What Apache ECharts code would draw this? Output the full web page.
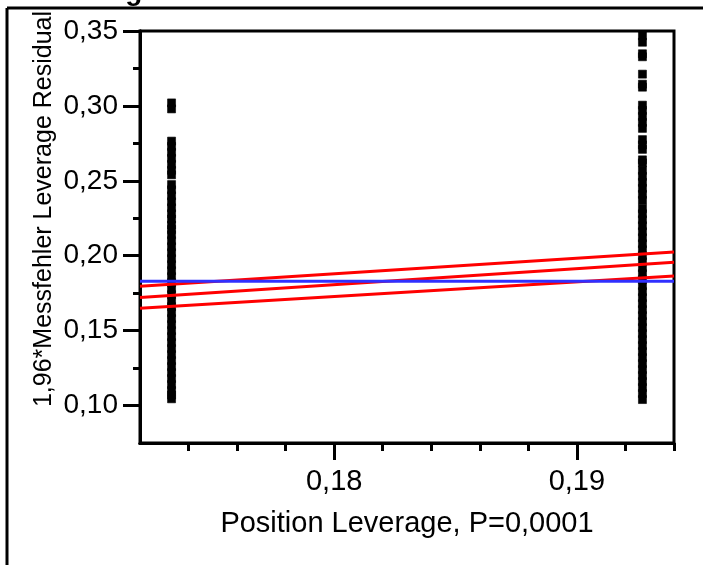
<!DOCTYPE html>
<html>
<head>
<meta charset="utf-8">
<script src="https://cdn.jsdelivr.net/npm/echarts@6/dist/echarts.min.js"></script>
<style>html,body{margin:0;padding:0;background:#fff}#c{width:703px;height:565px}</style>
</head>
<body>
<div id="c"></div>
<script>
// ---- data ----
var chartTitle = 'Leverage Plot';
var xTitle = 'Position Leverage, P=0,0001';
var yTitle = '1,96*Messfehler Leverage Residual';
var xTickValues = [0.18, 0.19];
var xMinorTickValues = [0.174, 0.176, 0.178, 0.182, 0.184, 0.186, 0.188, 0.192, 0.194];
var yTickValues = [0.10, 0.15, 0.20, 0.25, 0.30, 0.35];
var yMinorTickValues = [0.125, 0.175, 0.225, 0.275, 0.325];
var leftLeverage = 0.1733;
var rightLeverage = 0.1927;
var leftResiduals = [0.302, 0.298,
  0.2765, 0.273, 0.269, 0.265, 0.261, 0.257, 0.254,
  0.2475, 0.244, 0.240, 0.236, 0.232, 0.228, 0.2245, 0.2205,
  0.2175, 0.214, 0.210, 0.206, 0.202, 0.198, 0.194, 0.190, 0.186, 0.182, 0.178, 0.174,
  0.170, 0.166, 0.162, 0.158, 0.154, 0.150, 0.146, 0.142, 0.138, 0.134, 0.130, 0.126,
  0.122, 0.118, 0.114, 0.110, 0.107, 0.1045];
var rightResiduals = [0.3468, 0.3425, 0.3348, 0.3328, 0.3212, 0.3145, 0.3125,
  0.3005, 0.297, 0.293, 0.289, 0.285,
  0.2775, 0.274, 0.271,
  0.264, 0.262,
  0.257, 0.253, 0.249, 0.245, 0.241, 0.237,
  0.2315, 0.228, 0.224, 0.220, 0.216, 0.212, 0.208, 0.204, 0.200, 0.196, 0.192, 0.188,
  0.184, 0.180, 0.176, 0.172, 0.168, 0.164, 0.160, 0.156, 0.152, 0.148, 0.144, 0.140,
  0.136, 0.132, 0.128, 0.124, 0.120, 0.116, 0.112, 0.108, 0.104];
var lineX = [0.172, 0.194];
var fitY = [0.1721, 0.1957];
var upperY = [0.1797, 0.2025];
var lowerY = [0.1650, 0.1865];
var meanY = [0.1829, 0.1829];

// ---- build ----
var FONT = '"Liberation Sans", Arial, sans-serif';
function pairs(xs, ys) { return xs.map(function (x, i) { return [x, ys[i]]; }); }
var pts = leftResiduals.map(function (v) { return [leftLeverage, v]; })
  .concat(rightResiduals.map(function (v) { return [rightLeverage, v]; }));
function fmt(v) { return (+v).toFixed(2).replace('.', ','); }

var chart = echarts.init(document.getElementById('c'), null, {renderer: 'canvas'});
var axisLine = {show: true, lineStyle: {color: '#000', width: 3}};
var opt = {
  animation: false,
  backgroundColor: '#fff',
  grid: {left: 140, right: 29, top: 31, bottom: 122, show: true, borderColor: '#000', borderWidth: 3, backgroundColor: 'transparent'},
  xAxis: [
    {type: 'value', min: 0.172, max: 0.194, position: 'bottom',
     axisLine: axisLine, splitLine: {show: false},
     axisTick: {show: true, inside: false, length: 8, customValues: xMinorTickValues, lineStyle: {color: '#000', width: 3}},
     axisLabel: {show: false}},
    {type: 'value', min: 0.172, max: 0.194, position: 'bottom',
     axisLine: axisLine, splitLine: {show: false},
     axisTick: {show: true, length: 17, customValues: xTickValues, lineStyle: {color: '#000', width: 3}},
     axisLabel: {show: true, customValues: xTickValues, formatter: fmt, margin: 24,
       fontFamily: FONT, fontSize: 29, color: '#000'},
     name: xTitle, nameLocation: 'middle', nameGap: 66,
     nameTextStyle: {fontFamily: FONT, fontSize: 29, color: '#000'}}
  ],
  yAxis: [
    {type: 'value', min: 0.075, max: 0.35, position: 'left',
     axisLine: axisLine, splitLine: {show: false},
     axisTick: {show: true, length: 7, customValues: yMinorTickValues, lineStyle: {color: '#000', width: 3}},
     axisLabel: {show: false}},
    {type: 'value', min: 0.075, max: 0.35, position: 'left',
     axisLine: axisLine, splitLine: {show: false},
     axisTick: {show: true, length: 17, customValues: yTickValues, lineStyle: {color: '#000', width: 3}},
     axisLabel: {show: true, customValues: yTickValues, formatter: fmt, margin: 22,
       fontFamily: FONT, fontSize: 28, color: '#000'}}
  ],
  series: [
    {type: 'scatter', xAxisIndex: 0, yAxisIndex: 0, data: pts, symbol: 'rect', symbolSize: 8,
     itemStyle: {color: '#000', opacity: 1, borderColor: '#000', borderWidth: 0.6}, silent: true},
    {type: 'line', xAxisIndex: 0, yAxisIndex: 0, data: pairs(lineX, upperY), showSymbol: false,
     lineStyle: {color: '#ff0000', width: 3}, clip: false, silent: true},
    {type: 'line', xAxisIndex: 0, yAxisIndex: 0, data: pairs(lineX, fitY), showSymbol: false,
     lineStyle: {color: '#ff0000', width: 3}, clip: false, silent: true},
    {type: 'line', xAxisIndex: 0, yAxisIndex: 0, data: pairs(lineX, lowerY), showSymbol: false,
     lineStyle: {color: '#ff0000', width: 3}, clip: false, silent: true},
    {type: 'line', xAxisIndex: 0, yAxisIndex: 0, data: pairs(lineX, meanY), showSymbol: false,
     lineStyle: {color: '#3030ff', width: 3}, clip: false, silent: true, z: 3}
  ],
  graphic: [
    {type: 'line', shape: {x1: 7, y1: 8, x2: 703, y2: 8}, style: {stroke: '#000', lineWidth: 3}},
    {type: 'line', shape: {x1: 7, y1: 8, x2: 7, y2: 565}, style: {stroke: '#000', lineWidth: 3}},
    {type: 'text', x: 35, y: -8, style: {text: chartTitle, fontFamily: FONT, fontSize: 28, fontWeight: 'bold',
      fill: '#000', verticalAlign: 'middle', align: 'left'}},
    {type: 'text', x: 44, y: 209, rotation: Math.PI / 2, style: {text: yTitle, fontFamily: FONT, fontSize: 25,
      fill: '#000', align: 'center', verticalAlign: 'middle'}}
  ]
};
chart.setOption(opt);
</script>
</body>
</html>
